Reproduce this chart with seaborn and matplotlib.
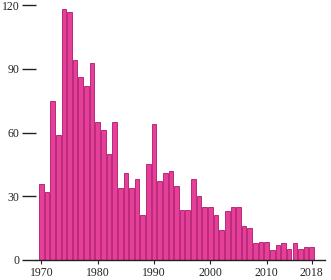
import matplotlib
matplotlib.use("Agg")
import matplotlib.pyplot as plt
import seaborn as sns
import pandas as pd

years = list(range(1970, 2019))
values = [36, 32, 75, 59, 118, 116.5, 94, 86, 82, 92.5,
          65, 61, 50, 65, 34, 41, 34, 38, 21, 45,
          64, 37, 41, 42, 35, 23.5, 23.5, 38, 30, 25,
          25, 21, 14, 23, 25, 25, 16, 15, 8, 8.5,
          8.5, 4.7, 7, 8, 5, 8, 5, 6, 6]
xtick_labels = ["1970", "1980", "1990", "2000", "2010", "2018"]
ytick_values = [0, 30, 60, 90, 120]

df = pd.DataFrame({"year": years, "value": values})

sns.set_style("white")
plt.rcParams['font.family'] = ['Liberation Serif', 'DejaVu Serif']

fig = plt.figure(figsize=(3.31, 2.80), dpi=100)
ax = fig.add_axes([36/331, 20/280, (325-36)/331, 255/280])

sns.barplot(data=df, x="year", y="value", ax=ax, color="#e4409a",
            width=0.82, saturation=1, edgecolor="#b5156a", linewidth=0.6)

ax.set_xlim(-0.95, 48 + 2.36)
ax.set_ylim(0, 120)
ax.set_xlabel("")
ax.set_ylabel("")

pos = [years.index(int(l)) for l in xtick_labels]
ax.set_xticks(pos)
ax.set_xticklabels(xtick_labels, fontsize=8.5, color="#222222")
ax.set_yticks(ytick_values)
ax.set_yticklabels([str(v) for v in ytick_values], fontsize=8.5, color="#222222")

ax.tick_params(axis="y", length=10, width=1, color="#222222", pad=2, left=True)
ax.tick_params(axis="x", length=3, width=0.8, color="#222222", pad=2, bottom=True)

for s in ["top", "right", "left"]:
    ax.spines[s].set_visible(False)
ax.spines["bottom"].set_color("#222222")
ax.spines["bottom"].set_linewidth(1)

fig.savefig("out.png", dpi=100)
